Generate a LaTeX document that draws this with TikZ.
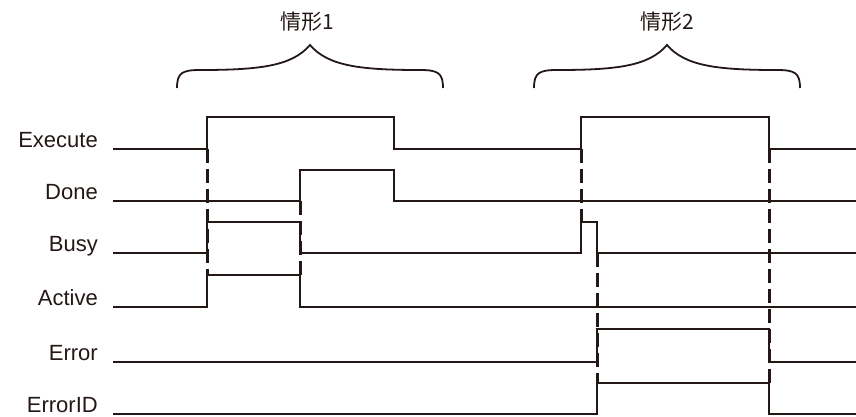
\documentclass[tikz,border=0pt]{standalone}
\usepackage{fontspec}
\setmainfont{Liberation Sans}
\newfontfamily\cjkfont{Noto Sans CJK SC}
\usepackage{tikz}
\usetikzlibrary{positioning}
\definecolor{inkblack}{RGB}{35,24,21}

\begin{document}
\begin{tikzpicture}[
        x=1pt, y=-1pt,
        wave/.style={draw=inkblack, line width=2pt, line join=miter},
        guide/.style={draw=inkblack, line width=3pt, dash pattern=on 14pt off 6pt},
        siglabel/.style={anchor=base east, inner sep=0pt, text=inkblack,
            font=\fontsize{22}{26}\selectfont},
        caselabel/.style={inner sep=0pt, text=inkblack,
            font=\cjkfont\fontsize{21}{25}\selectfont},
        casebrace/.pic={
            \draw[draw=inkblack, line width=1.8pt]
                (-133,43) .. controls (-133,28) and (-128,25) .. (-110,25)
                .. controls (-50,25) and (-18,21) .. (0,0)
                .. controls (18,21) and (50,25) .. (110,25)
                .. controls (128,25) and (133,28) .. (133,43);
        }
    ]
        \useasboundingbox (0,0) rectangle (856,416);

        % signal names
        \foreach \name/\lab/\y in {exe/Execute/149, done/Done/201, busy/Busy/253,
                act/Active/307, err/Error/362, errid/ErrorID/414}
            \node[siglabel] (\name) at (98,\y-2) {\lab};

        % case braces
        \pic at (310,45) {casebrace};
        \pic at (667,45) {casebrace};
        \node[caselabel] (case1) at (307,22) {情形1};
        \node[caselabel] (case2) at (667,22) {情形2};

        % waveforms
        \draw[wave] (113,149) -- (207,149) -- (207,117) -- (394,117) -- (394,149)
            -- (581,149) -- (581,117) -- (769,117) -- (769,149) -- (856,149);
        \draw[wave] (113,201) -- (300,201) -- (300,170) -- (394,170) -- (394,201)
            -- (856,201);
        \draw[wave] (113,253) -- (207,253) -- (207,222) -- (300,222) -- (300,253)
            -- (581,253) -- (581,222) -- (597,222) -- (597,253) -- (856,253);
        \draw[wave] (113,307) -- (207,307) -- (207,275) -- (300,275) -- (300,307)
            -- (856,307);
        \draw[wave] (113,362) -- (597,362) -- (597,329) -- (769,329) -- (769,362)
            -- (856,362);
        \draw[wave] (113,414) -- (597,414) -- (597,383) -- (769,383) -- (769,414)
            -- (856,414);

        % timing guides
        \draw[guide] (207,149) -- (207,275);
        \draw[guide] (300,201) -- (300,275);
        \draw[guide] (581,149) -- (581,222);
        \draw[guide] (597,253) -- (597,383);
        \draw[guide] (769,149) -- (769,383);
    \end{tikzpicture}
\end{document}
